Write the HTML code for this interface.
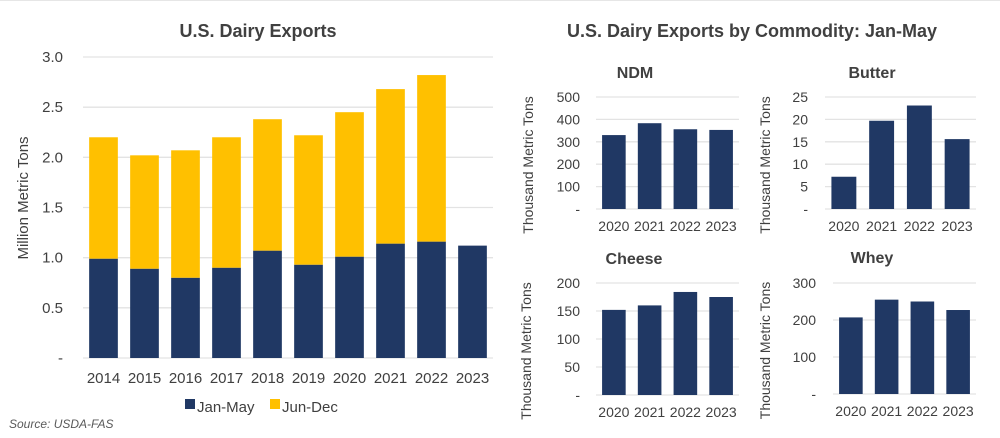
<!DOCTYPE html>
<html><head><meta charset="utf-8"><style>
body{margin:0;background:#fff;}
svg{display:block;font-family:"Liberation Sans",Arial,sans-serif;}
</style></head><body>
<svg id="c" width="1000" height="438" viewBox="0 0 1000 438">
<rect x="0" y="0" width="1000" height="438" fill="#fff"/>
<line x1="0" y1="0.5" x2="1000" y2="0.5" stroke="#e6e6e6"/>
<text x="258" y="37" text-anchor="middle" font-size="18" font-weight="bold" fill="#404040">U.S. Dairy Exports</text>
<text x="752" y="37" text-anchor="middle" font-size="18" font-weight="bold" fill="#404040">U.S. Dairy Exports by Commodity: Jan-May</text>
<text x="9" y="428" font-size="12" font-style="italic" fill="#595959">Source: USDA-FAS</text>
<g id="main"></g>
<g id="small"></g>
</svg>
<script>
const years = ["2014","2015","2016","2017","2018","2019","2020","2021","2022","2023"];
const janMay = [0.99,0.89,0.80,0.90,1.07,0.93,1.01,1.14,1.16,1.12];
const junDec = [1.21,1.13,1.27,1.30,1.31,1.29,1.44,1.54,1.66,0];
const mainTicks = [0,0.5,1.0,1.5,2.0,2.5,3.0];
const mainTickLabels = ["-","0.5","1.0","1.5","2.0","2.5","3.0"];

const smallYears = ["2020","2021","2022","2023"];
const ndmVals = [330,383,356,353];
const butterVals = [7.2,19.7,23.1,15.6];
const cheeseVals = [152,160,184,175];
const wheyVals = [207,255,250,227];
const ndmTicks = [0,100,200,300,400,500];
const butterTicks = [0,5,10,15,20,25];
const cheeseTicks = [0,50,100,150,200];
const wheyTicks = [0,100,200,300];

const NS="http://www.w3.org/2000/svg";
function mk(parent,tag,attrs,text){const e=document.createElementNS(NS,tag);for(const k in attrs)e.setAttribute(k,attrs[k]);if(text!==undefined)e.textContent=text;parent.appendChild(e);return e;}

// main chart
(function(){
  const g=document.getElementById('main');
  const x0=83,x1=493,yTop=57,yBot=358,maxV=3.0;
  const y=v=>yBot-(v/maxV)*(yBot-yTop);
  const band=(x1-x0)/years.length, bw=band*0.7;
  const xb=i=>x0+band*i+(band-bw)/2;
  mainTicks.forEach((t,i)=>{
    const l=mk(g,'line',{x1:x0,x2:x1,y1:y(t),y2:y(t),stroke:'#e3e3e3','stroke-width':1.3});
    
    
    const tx=mk(g,'text',{x:63,y:y(t)+5,'text-anchor':'end','font-size':15,fill:'#404040'},mainTickLabels[i]);
    
    
  });
  years.forEach((yr,i)=>{
    const b=mk(g,'rect',{x:xb(i),y:y(janMay[i]),width:bw,height:yBot-y(janMay[i]),fill:'#203864'});
    
    
    if(junDec[i]>0){
      const t=janMay[i]+junDec[i];
      const b2=mk(g,'rect',{x:xb(i),y:y(t),width:bw,height:y(janMay[i])-y(t),fill:'#ffc000'});
      
      
    }
    const lb=mk(g,'text',{x:xb(i)+bw/2,y:383,'text-anchor':'middle','font-size':15,fill:'#404040'},yr);
    
    
  });
  const at=mk(g,'text',{x:0,y:0,'text-anchor':'middle','font-size':15,fill:'#404040',transform:'translate(28,198) rotate(-90)'},'Million Metric Tons');
  
  
  const lg=mk(g,'g',{});
  
  
  const s1=mk(lg,'rect',{x:185,y:399,width:10,height:10,fill:'#203864'});
  
  
  const t1=mk(lg,'text',{x:197,y:412,'font-size':15,fill:'#404040'},'Jan-May');
  
  
  const s2=mk(lg,'rect',{x:270,y:399,width:10,height:10,fill:'#ffc000'});
  
  
  const t2=mk(lg,'text',{x:282,y:412,'font-size':15,fill:'#404040'},'Jun-Dec');
  
  
})();

function small(name,vals,ticks,cfg){
  const root=document.getElementById('small');
  const g=mk(root,'g',{});
  
  
  const maxV=ticks[ticks.length-1];
  const y=v=>cfg.yBot-(v/maxV)*(cfg.yBot-cfg.yTop);
  const band=(cfg.x1-cfg.x0)/vals.length,bw=band*0.66;
  const xb=i=>cfg.x0+band*i+(band-bw)/2;
  const tt=mk(g,'text',{x:cfg.tx,y:cfg.ty,'text-anchor':'middle','font-size':16,'font-weight':'bold',fill:'#404040'},name);
  
  
  ticks.forEach(t=>{
    const l=mk(g,'line',{x1:cfg.x0,x2:cfg.x1,y1:y(t),y2:y(t),stroke:'#e3e3e3','stroke-width':1.3});
    
    
    const tx=mk(g,'text',{x:cfg.lx,y:y(t)+5,'text-anchor':'end','font-size':14,fill:'#404040'},t===0?'-':String(t));
    
    
  });
  vals.forEach((v,i)=>{
    const b=mk(g,'rect',{x:xb(i),y:y(v),width:bw,height:cfg.yBot-y(v),fill:'#203864'});
    
    
    const lb=mk(g,'text',{x:xb(i)+bw/2,y:cfg.yBot+22,'text-anchor':'middle','font-size':14,fill:'#404040'},smallYears[i]);
    
    
  });
  const cy=(cfg.yTop+cfg.yBot)/2+12;
  const at=mk(g,'text',{x:0,y:0,'text-anchor':'middle','font-size':14,fill:'#404040',transform:'translate('+cfg.ax+','+cy+') rotate(-90)'},'Thousand Metric Tons');
  
  
}
small('NDM',ndmVals,ndmTicks,{x0:596,x1:739,yTop:97,yBot:209,tx:635,ty:78,lx:580,ax:533});
small('Butter',butterVals,butterTicks,{x0:825,x1:976,yTop:97,yBot:209,tx:872,ty:78,lx:808,ax:770});
small('Cheese',cheeseVals,cheeseTicks,{x0:596,x1:739,yTop:283,yBot:395,tx:634,ty:264,lx:580,ax:531});
small('Whey',wheyVals,wheyTicks,{x0:833,x1:976,yTop:283,yBot:394,tx:872,ty:263,lx:816,ax:770});
</script>
</body></html>
